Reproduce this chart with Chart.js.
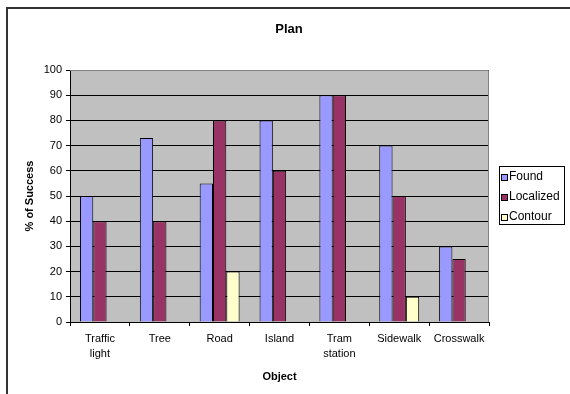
<!DOCTYPE html>
<html>
<head>
<meta charset="utf-8">
<script src="https://cdn.jsdelivr.net/npm/chart.js@4.4.0/dist/chart.umd.min.js"></script>
<style>
  html, body { margin: 0; padding: 0; background: #fff; }
  canvas { display: block; }
</style>
</head>
<body>
<canvas id="planChart" width="570" height="394"></canvas>
<script>
// datos del grafico
const categorias = [['Traffic', 'light'], 'Tree', 'Road', 'Island', ['Tram', 'station'], 'Sidewalk', 'Crosswalk'];
const found = [50, 73, 55, 80, 90, 70, 30];
const localized = [40, 40, 80, 60, 90, 50, 25];
const contour = [null, null, 20, null, null, 10, null];
const yTicks = [0, 10, 20, 30, 40, 50, 60, 70, 80, 90, 100];

const FONT = '"Liberation Sans", Arial, sans-serif';

// marco, fondo gris, titulo y leyenda al estilo Excel
const excelPlugin = {
    id: 'excelStyle',
    beforeDraw(chart) {
        const ctx = chart.ctx;
        const a = chart.chartArea;
        ctx.save();
        ctx.fillStyle = '#fff';
        ctx.fillRect(0, 0, chart.width, chart.height);
        ctx.fillStyle = '#C0C0C0';
        ctx.fillRect(a.left, a.top, a.right - a.left, a.bottom - a.top);
        ctx.strokeStyle = '#333';
        ctx.lineWidth = 2;
        ctx.beginPath();
        ctx.moveTo(7, chart.height);
        ctx.lineTo(7, 8);
        ctx.lineTo(chart.width, 8);
        ctx.stroke();
        ctx.restore();
    },
    afterDraw(chart) {
        const ctx = chart.ctx;
        const a = chart.chartArea;
        ctx.save();
        // borde gris del area de trazado
        ctx.strokeStyle = '#808080';
        ctx.lineWidth = 1;
        ctx.beginPath();
        ctx.moveTo(a.left, a.top + 0.5);
        ctx.lineTo(a.right - 0.5, a.top + 0.5);
        ctx.lineTo(a.right - 0.5, a.bottom);
        ctx.stroke();

        // titulo
        ctx.fillStyle = '#000';
        ctx.font = 'bold 13px ' + FONT;
        ctx.textAlign = 'center';
        ctx.textBaseline = 'middle';
        ctx.fillText('Plan', 289, 29);

        // leyenda
        const lx = 499, ly = 166, lw = 66, lh = 59;
        ctx.fillStyle = '#fff';
        ctx.fillRect(lx, ly, lw, lh);
        ctx.strokeStyle = '#000';
        ctx.strokeRect(lx + 0.5, ly + 0.5, lw - 1, lh - 1);
        ctx.font = '12px ' + FONT;
        ctx.textAlign = 'left';
        chart.data.datasets.forEach((ds, i) => {
            const y = 176 + i * 20;
            ctx.fillStyle = ds.backgroundColor;
            ctx.fillRect(501, y - 2, 6, 6);
            ctx.strokeStyle = '#000';
            ctx.strokeRect(501.5, y - 1.5, 6, 6);
            ctx.fillStyle = '#000';
            ctx.fillText(ds.label, 509, y + 0.5);
        });
        ctx.restore();
    }
};

const ctx = document.getElementById('planChart').getContext('2d');
new Chart(ctx, {
    type: 'bar',
    data: {
        labels: categorias,
        datasets: [{
            label: 'Found',
            data: found,
            backgroundColor: '#9999FF',
            borderColor: '#000',
            borderWidth: 1
        }, {
            label: 'Localized',
            data: localized,
            backgroundColor: '#993366',
            borderColor: '#000',
            borderWidth: 1
        }, {
            label: 'Contour',
            data: contour,
            backgroundColor: '#FFFFCC',
            borderColor: '#000',
            borderWidth: 1
        }]
    },
    options: {
        responsive: false,
        animation: false,
        layout: {
            padding: { left: 8, top: 70, right: 81, bottom: 0 }
        },
        datasets: {
            bar: {
                categoryPercentage: 0.667,
                barPercentage: 1
            }
        },
        plugins: {
            legend: { display: false },
            title: { display: false },
            tooltip: { enabled: false }
        },
        scales: {
            x: {
                afterFit: scale => { scale.height = 72; },
                grid: {
                    display: true,
                    drawOnChartArea: false,
                    color: '#000',
                    tickLength: 4,
                    offset: true
                },
                border: { color: '#000', width: 1 },
                ticks: {
                    color: '#000',
                    font: { family: FONT, size: 11, lineHeight: 1.35 },
                    padding: 6,
                    maxRotation: 0,
                    autoSkip: false
                },
                title: {
                    display: true,
                    text: 'Object',
                    color: '#000',
                    font: { family: FONT, size: 11, weight: 'bold' },
                    padding: { top: 0, bottom: 10 }
                }
            },
            y: {
                min: 0,
                max: 100,
                afterFit: scale => { scale.width = 62; },
                afterBuildTicks: scale => { scale.ticks = yTicks.map(v => ({ value: v })); },
                grid: {
                    color: '#000',
                    lineWidth: 1,
                    tickLength: 4
                },
                border: { color: '#000', width: 1 },
                ticks: {
                    color: '#000',
                    font: { family: FONT, size: 11 },
                    padding: 4
                },
                title: {
                    display: true,
                    text: '% of Success',
                    color: '#000',
                    font: { family: FONT, size: 11, weight: 'bold' },
                    padding: { top: 15, bottom: 0 }
                }
            }
        }
    },
    plugins: [excelPlugin]
});
</script>
</body>
</html>
